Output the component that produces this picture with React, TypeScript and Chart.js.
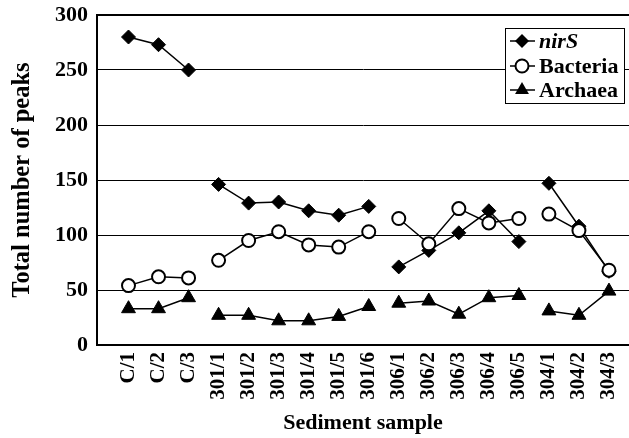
import React, { useEffect, useRef } from "react";
import { Chart, registerables } from "chart.js";

Chart.register(...registerables);

const categories = [
  "C/1", "C/2", "C/3",
  "301/1", "301/2", "301/3", "301/4", "301/5", "301/6",
  "306/1", "306/2", "306/3", "306/4", "306/5",
  "304/1", "304/2", "304/3",
];
// index of the last sample in each site group (lines break after these)
const groupEnds = [2, 8, 13];

const nirS = [280, 273, 250, 146, 129, 130, 122, 118, 126, 71, 86, 102, 122, 94, 147, 108, 67];
const bacteria = [54, 62, 61, 77, 95, 103, 91, 89, 103, 115, 92, 124, 111, 115, 119, 104, 68];
const archaea = [33, 33, 43, 27, 27, 22, 22, 26, 35, 38, 40, 28, 43, 45, 31, 27, 49];

const yTicks = [0, 50, 100, 150, 200, 250, 300];

const FONT = "'Liberation Serif', 'Times New Roman', serif";

function toPoints(values: number[]) {
  const pts: { x: number; y: number | null }[] = [];
  values.forEach((v, i) => {
    pts.push({ x: i, y: v });
    if (groupEnds.includes(i)) pts.push({ x: i + 0.5, y: null });
  });
  return pts;
}

const legendPlugin = {
  id: "boxLegend",
  afterDraw(chart: any) {
    const ctx = chart.ctx;
    const x0 = 505, y0 = 28, w = 119, h = 75;
    ctx.save();
    ctx.fillStyle = "#fff";
    ctx.fillRect(x0, y0, w, h);
    ctx.strokeStyle = "#000";
    ctx.lineWidth = 1;
    ctx.strokeRect(x0 + 0.5, y0 + 0.5, w, h);
    const rows = [41, 66, 90];
    chart.data.datasets.forEach((ds: any, i: number) => {
      const cy = rows[i];
      ctx.strokeStyle = "#000";
      ctx.lineWidth = 1.5;
      ctx.beginPath();
      ctx.moveTo(510, cy);
      ctx.lineTo(535, cy);
      ctx.stroke();
      const cx = 522;
      ctx.beginPath();
      if (ds.pointStyle === "rectRot") {
        const r = 7;
        ctx.moveTo(cx, cy - r);
        ctx.lineTo(cx + r, cy);
        ctx.lineTo(cx, cy + r);
        ctx.lineTo(cx - r, cy);
        ctx.closePath();
        ctx.fillStyle = "#000";
        ctx.fill();
      } else if (ds.pointStyle === "circle") {
        ctx.arc(cx, cy, 6.5, 0, Math.PI * 2);
        ctx.fillStyle = "#fff";
        ctx.fill();
        ctx.lineWidth = 2;
        ctx.stroke();
      } else {
        const r = 8;
        ctx.moveTo(cx, cy - r);
        ctx.lineTo(cx + r * 0.866, cy + r / 2);
        ctx.lineTo(cx - r * 0.866, cy + r / 2);
        ctx.closePath();
        ctx.fillStyle = "#000";
        ctx.fill();
      }
      ctx.fillStyle = "#000";
      ctx.textBaseline = "middle";
      ctx.textAlign = "left";
      ctx.font = (i === 0 ? "italic bold " : "bold ") + "22px " + FONT;
      ctx.fillText(ds.label, 539, cy + 1);
    });
    ctx.restore();
  },
};

export default function App() {
  const ref = useRef<HTMLCanvasElement>(null);
  useEffect(() => {
    if (!ref.current) return;
    const common = {
      borderColor: "#000",
      borderWidth: 1.5,
      pointBorderColor: "#000",
      spanGaps: false,
      tension: 0,
    };
    const chart = new Chart(ref.current, {
      type: "line",
      data: {
        datasets: [
          { ...common, order: 1, label: "nirS", data: toPoints(nirS) as any, pointStyle: "rectRot", pointRadius: 7, pointBackgroundColor: "#000", pointBorderWidth: 1 },
          { ...common, order: 0, label: "Bacteria", data: toPoints(bacteria) as any, pointStyle: "circle", pointRadius: 6.5, pointBackgroundColor: "#fff", pointBorderWidth: 2 },
          { ...common, order: 2, label: "Archaea", data: toPoints(archaea) as any, pointStyle: "triangle", pointRadius: 8, pointBackgroundColor: "#000", pointBorderWidth: 1 },
        ],
      },
      options: {
        animation: false,
        responsive: false,
        events: [],
        layout: { padding: { top: 15, left: 0, right: 0, bottom: 0 } },
        plugins: { legend: { display: false }, tooltip: { enabled: false } },
        scales: {
          x: {
            type: "linear",
            min: -1.049,
            max: 16.667,
            afterBuildTicks: (scale: any) => {
              scale.ticks = categories.map((_, i) => ({ value: i }));
            },
            afterFit: (scale: any) => {
              scale.height = 93;
              scale.paddingLeft = 0;
              scale.paddingRight = 0;
            },
            grid: { display: true, drawOnChartArea: false, drawTicks: false },
            border: { display: true, color: "#000", width: 2 },
            ticks: {
              color: "#000",
              font: { family: FONT, size: 21, weight: "bold" },
              minRotation: 90,
              maxRotation: 90,
              padding: 7,
              autoSkip: false,
              callback: (v: any) => categories[Math.round(Number(v))] ?? "",
            },
            title: { display: true, text: "Sediment sample", color: "#000", font: { family: FONT, size: 22, weight: "bold" }, padding: { top: 0, bottom: 1 } },
          },
          y: {
            min: 0,
            max: 300,
            afterBuildTicks: (scale: any) => {
              scale.ticks = yTicks.map((v) => ({ value: v }));
            },
            afterFit: (scale: any) => {
              scale.width = 97;
              scale.paddingTop = 0;
              scale.paddingBottom = 0;
            },
            grid: { color: "#000", lineWidth: (c: any) => (c.tick && c.tick.value === 300 ? 2 : 1), drawTicks: false },
            border: { display: true, color: "#000", width: 2 },
            ticks: { color: "#000", font: { family: FONT, size: 22, weight: "bold" }, padding: 9 },
            title: { display: true, text: "Total number of peaks", color: "#000", font: { family: FONT, size: 24.5, weight: "bold" }, padding: { top: 8, bottom: 0 } },
          },
        },
      },
      plugins: [legendPlugin],
    } as any);
    return () => chart.destroy();
  }, []);
  return (
    <div style={{ position: "absolute", left: 0, top: 0, width: 629, height: 438, overflow: "hidden", background: "#fff" }}>
      <canvas ref={ref} width={638} height={438} style={{ display: "block" }} />
    </div>
  );
}
